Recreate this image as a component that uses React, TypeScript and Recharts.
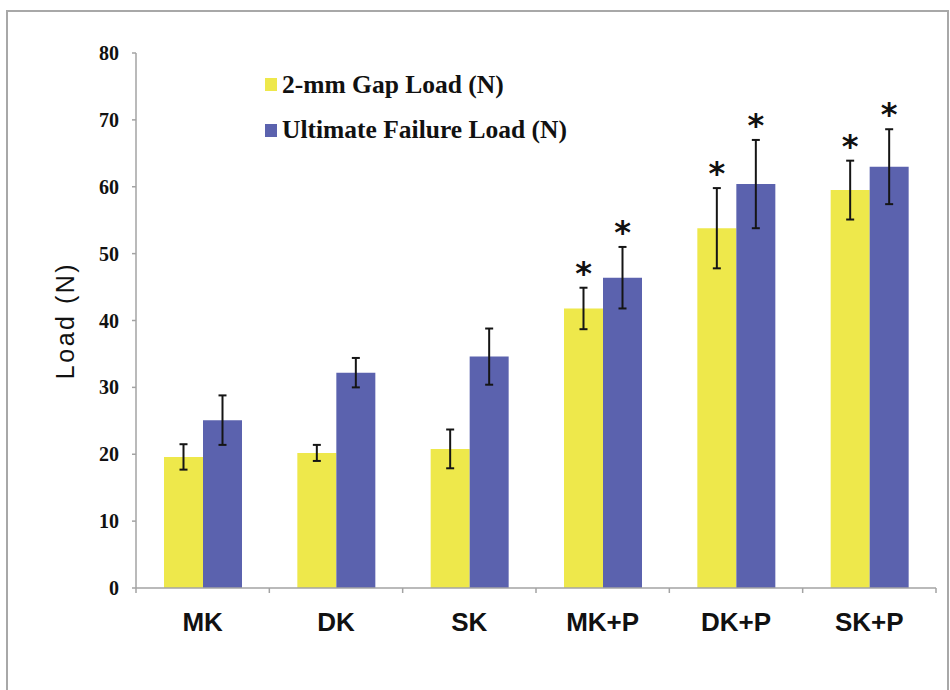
import React from 'react';
import { BarChart, Bar, XAxis, YAxis, ErrorBar, Legend, LabelList, Label } from 'recharts';

const categories = ['MK', 'DK', 'SK', 'MK+P', 'DK+P', 'SK+P'];
const gapLoad = [19.6, 20.2, 20.8, 41.8, 53.8, 59.5];
const gapErr = [1.9, 1.2, 2.9, 3.1, 6.0, 4.4];
const failLoad = [25.1, 32.2, 34.6, 46.4, 60.4, 63.0];
const failErr = [3.7, 2.2, 4.2, 4.6, 6.6, 5.6];
const gapSig = [false, false, false, true, true, true];
const failSig = [false, false, false, true, true, true];
const yTicks = [0, 10, 20, 30, 40, 50, 60, 70, 80];

const seriesNames = ['2-mm Gap Load (N)', 'Ultimate Failure Load (N)'];
const YELLOW = '#EEE84B';
const BLUE = '#5B62AE';
const AXIS = '#a3a3a3';

const data = categories.map((name, i) => ({
  name,
  gap: gapLoad[i],
  gapErr: gapErr[i],
  fail: failLoad[i],
  failErr: failErr[i],
}));

const makeStar = (errs: number[], sigs: boolean[]) => (props: any) => {
  const { x, y, width, height, value, index } = props;
  if (!sigs[index]) return null;
  const v = Number(value);
  const ppu = Number(height) / v;
  const errTop = Number(y) - errs[index] * ppu;
  const cx = Number(x) + Number(width) / 2;
  const cy = errTop - 22;
  return (
    <text
      x={cx}
      y={cy + 18}
      textAnchor="middle"
      fontFamily="'DejaVu Sans', sans-serif"
      fontWeight="bold"
      fontSize={32}
      fill="#111"
    >
      *
    </text>
  );
};

const XTick = (props: any) => {
  const { x, y, payload, index } = props;
  const half = payload && payload.offset ? payload.offset : 800 / categories.length / 2;
  const last = index === categories.length - 1;
  return (
    <g>
      <line x1={x - half} x2={x - half} y1={y - 5} y2={y} stroke={AXIS} strokeWidth={1.5} />
      {last && <line x1={x + half} x2={x + half} y1={y - 5} y2={y} stroke={AXIS} strokeWidth={1.5} />}
      <text
        x={x}
        y={y + 38}
        textAnchor="middle"
        fontFamily="'Liberation Sans', Arial, sans-serif"
        fontWeight="bold"
        fontSize={26}
        fill="#111"
      >
        {payload.value}
      </text>
    </g>
  );
};

const renderLegend = (props: any) => {
  const payload = props.payload || [];
  return (
    <div style={{ position: 'relative', width: 330, height: 90 }}>
      {payload.map((entry: any, i: number) => (
        <React.Fragment key={i}>
          <div
            style={{
              position: 'absolute',
              left: 0,
              top: 8 + 46 * i,
              width: 12,
              height: 13,
              background: entry.color,
            }}
          />
          <span
            style={{
              position: 'absolute',
              left: 17,
              top: 2 + 45 * i,
              whiteSpace: 'nowrap',
              fontFamily: "'Liberation Serif', 'Times New Roman', serif",
              fontWeight: 'bold',
              fontSize: 25.5,
              lineHeight: '25px',
              color: '#111',
            }}
          >
            {entry.value}
          </span>
        </React.Fragment>
      ))}
    </div>
  );
};

export default function App() {
  return (
    <div style={{ position: 'absolute', left: 0, top: 0, width: 950, height: 690, overflow: 'hidden', background: '#fff' }}>
      <div
        style={{
          position: 'absolute',
          left: 6,
          top: 10,
          width: 943,
          height: 720,
          border: '2px solid #a8a8a8',
          boxSizing: 'border-box',
        }}
      />
      <div style={{ position: 'absolute', left: 0, top: 0 }}>
        <BarChart
          width={950}
          height={690}
          data={data}
          margin={{ top: 53, right: 14, bottom: 62, left: 0 }}
          barCategoryGap="21%"
          barGap={0}
        >
          <XAxis
            dataKey="name"
            height={40}
            axisLine={{ stroke: AXIS, strokeWidth: 1.5 }}
            tickLine={false}
            tickSize={5}
            tickMargin={0}
            tick={<XTick />}
            interval={0}
          />
          <YAxis
            width={136}
            domain={[0, 80]}
            ticks={yTicks}
            interval={0}
            axisLine={{ stroke: AXIS, strokeWidth: 1.5 }}
            tickLine={{ stroke: AXIS, strokeWidth: 1.5 }}
            tickSize={4}
            tickMargin={13}
            tick={{
              fontFamily: "'Liberation Serif', 'Times New Roman', serif",
              fontWeight: 'bold',
              fontSize: 20,
              fill: '#111',
            }}
          >
            <Label
              content={(p: any) => {
                const vb = p.viewBox || { y: 53, height: 535 };
                const cx = 65;
                const cy = vb.y + vb.height / 2;
                return (
                  <text
                    x={cx}
                    y={cy}
                    transform={`rotate(-90 ${cx} ${cy})`}
                    textAnchor="middle"
                    dominantBaseline="central"
                    fontFamily="'Liberation Sans', Arial, sans-serif"
                    fontSize={25}
                    letterSpacing={2.5}
                    fill="#111"
                  >
                    Load (N)
                  </text>
                );
              }}
            />
          </YAxis>
          <Legend
            layout="vertical"
            align="center"
            verticalAlign="middle"
            wrapperStyle={{ left: 265, top: 70, width: 330 }}
            content={renderLegend}
          />
          <Bar dataKey="gap" name={seriesNames[0]} fill={YELLOW} isAnimationActive={false}>
            <ErrorBar dataKey="gapErr" width={4} strokeWidth={2} stroke="#151515" direction="y" isAnimationActive={false} />
            <LabelList dataKey="gap" content={makeStar(gapErr, gapSig)} />
          </Bar>
          <Bar dataKey="fail" name={seriesNames[1]} fill={BLUE} isAnimationActive={false}>
            <ErrorBar dataKey="failErr" width={4} strokeWidth={2} stroke="#151515" direction="y" isAnimationActive={false} />
            <LabelList dataKey="fail" content={makeStar(failErr, failSig)} />
          </Bar>
        </BarChart>
      </div>
    </div>
  );
}
